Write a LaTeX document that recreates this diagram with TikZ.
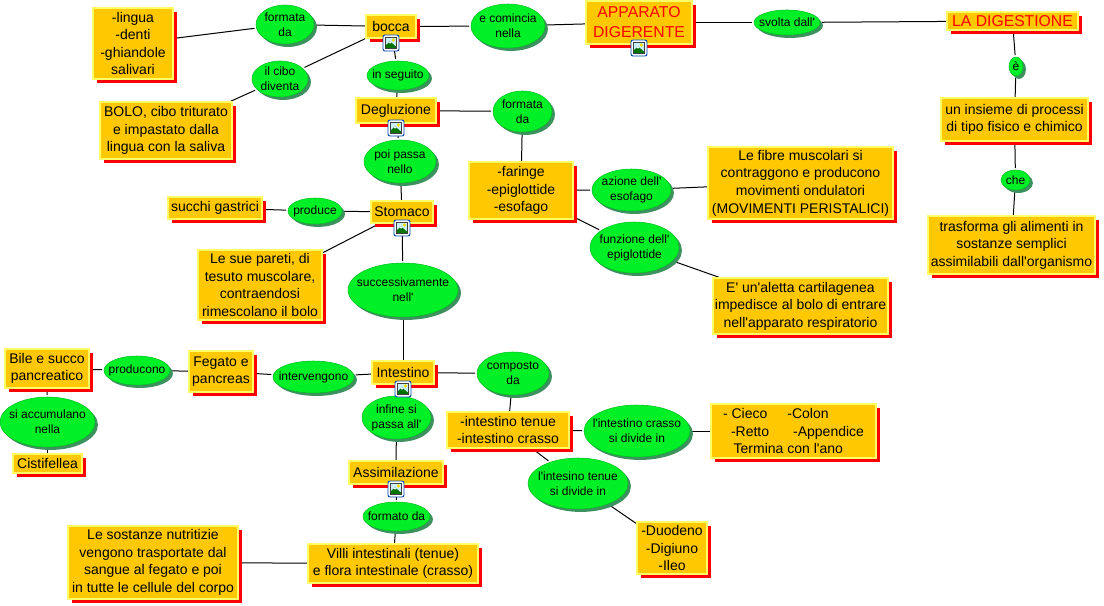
\documentclass[tikz,border=0pt]{standalone}
\usepackage{fontspec}
\setmainfont{Liberation Sans}[Ligatures=TeXOff]
\usetikzlibrary{shadows,shapes.geometric,backgrounds}
\definecolor{boxfill}{RGB}{255,200,0}
\definecolor{boxedge}{RGB}{255,255,102}
\definecolor{ellfill}{RGB}{0,240,40}
\definecolor{ellshadow}{RGB}{60,145,95}
\tikzset{
  x=0.75pt,y=-0.75pt,
  cbox/.style={rectangle,fill=boxfill,draw=boxedge,line width=1.1pt,inner sep=0pt,align=center,
    font=\fontsize{10.5}{13.2}\selectfont,
    general shadow={fill=red,shadow xshift=3pt,shadow yshift=-3pt}},
  cell/.style={ellipse,fill=ellfill,draw=ellfill!80!black,line width=0.4pt,inner sep=0pt,outer sep=1.5pt,
    general shadow={fill=ellshadow,shadow xshift=2.2pt,shadow yshift=-2.2pt}},
  celltext/.style={align=center,inner sep=0pt,font=\fontsize{9}{11.4}\selectfont},
  link/.style={draw=black,line width=0.75pt},
  titletext/.style={text=red,font=\fontsize{11.8}{15}\selectfont},
  pics/photoicon/.style={code={
    \draw[fill=white,draw=blue!60!cyan!70!black,line width=0.7pt,rounded corners=1.5pt] (-8,-8) rectangle (8,8);
    \fill[cyan!20] (-5.5,-5.5) rectangle (5.5,5.5);
    \fill[yellow!80!orange] (2.3,-3) circle (1.8);
    \fill[green!45!black] (-5.5,5.5) -- (-5.5,2.5) -- (-1,-1.5) -- (5.5,4) -- (5.5,5.5) -- cycle;
    \fill[white] (-2.2,-0.5) -- (-1,-1.5) -- (0.4,-0.3) -- (-1,0.6) -- cycle;
    \draw[black!75,line width=0.5pt] (-5.5,-5.5) rectangle (5.5,5.5);
  }}
}
\newcommand{\bx}[7][]{\node[cbox,#1,minimum width={(#4-#2)*0.75pt},minimum height={(#5-#3)*0.75pt}] (#6) at ({(#2+#4)/2},{(#3+#5)/2}) {#7};}
\newcommand{\el}[6]{\node[cell,minimum width={(#3-#1)*0.75pt},minimum height={(#4-#2)*0.75pt},label={[celltext]center:{#6}}] (#5) at ({(#1+#3)/2},{(#2+#4)/2}) {};}
\begin{document}
\begin{tikzpicture}
\useasboundingbox (0,0) rectangle (1104,606);
\bx{93}{8}{173}{79}{lingua}{-lingua\\-denti\\-ghiandole\\salivari}
\el{256}{5}{314}{44}{formata}{formata\\da}
\bx{366}{15}{416}{38}{bocca}{bocca}
\el{471}{4}{545}{48}{comincia}{e comincia\\nella}
\bx[titletext]{586}{1}{692}{44}{apparato}{APPARATO\\DIGERENTE}
\el{754}{10}{820}{35}{svolta}{svolta dall'}
\bx[titletext]{947}{12}{1078}{30}{digestione}{LA DIGESTIONE}
\el{1009}{57}{1023}{76}{ee}{è}
\bx{941}{98}{1088}{141}{insieme}{un insieme di processi\\di tipo fisico e chimico}
\el{1001}{170}{1030}{190}{che}{che}
\bx{928}{216}{1095}{274}{trasforma}{trasforma gli alimenti in\\sostanze semplici\\assimilabili dall'organismo}
\el{252}{61}{308}{97}{cibo}{il cibo\\diventa}
\bx{100}{102}{232}{159}{bolo}{BOLO, cibo triturato\\e impastato dalla\\lingua con la saliva}
\el{367}{61}{429}{90}{seguito}{in seguito}
\bx{356}{98}{436}{123}{degluzione}{Degluzione}
\el{493}{91}{552}{132}{formata2}{formata\\da}
\el{364}{140}{436}{183}{passa}{poi passa\\nello}
\bx{469}{162}{573}{219}{faringe}{-faringe\\-epiglottide\\-esofago}
\el{592}{169}{671}{211}{azione}{azione dell'\\esofago}
\bx{708}{147}{893}{219}{fibre}{Le fibre muscolari si\\contraggono e producono\\movimenti ondulatori\\(MOVIMENTI PERISTALICI)}
\el{590}{222}{679}{273}{funzione}{funzione dell'\\epiglottide}
\bx{713}{278}{888}{334}{aletta}{E' un'aletta cartilagenea\\impedisce al bolo di entrare\\nell'apparato respiratorio}
\bx{168}{197}{262}{219}{succhi}{succhi gastrici}
\el{288}{198}{342}{224}{produce}{produce}
\bx{371}{201}{433}{223}{stomaco}{Stomaco}
\bx{198}{250}{322}{320}{pareti}{Le sue pareti, di\\tesuto muscolare,\\contraendosi\\rimescolano il bolo}
\el{348}{263}{458}{317}{success}{successivamente\\nell'}
\bx{372}{361}{434}{384}{intestino}{Intestino}
\el{273}{361}{354}{393}{intervengono}{intervengono}
\bx{189}{351}{253}{392}{fegato}{Fegato e\\pancreas}
\el{104}{356}{170}{385}{producono}{producono}
\bx{5}{349}{89}{388}{bile}{Bile e succo\\pancreatico}
\el{0}{397}{95}{447}{accumulano}{si accumulano\\nella}
\bx{13}{454}{82}{473}{cistifellea}{Cistifellea}
\el{477}{352}{549}{395}{composto}{composto\\da}
\bx{447}{412}{569}{448}{tenue}{-intestino tenue\\-intestino crasso}
\el{584}{405}{690}{457}{crasso}{l'intestino crasso\\si divide in}
\bx[align=left]{711}{404}{876}{458}{cieco}{- Cieco\hspace{15pt}-Colon\\\hspace*{6pt}-Retto\hspace{18pt}-Appendice\hspace*{7.5pt}\\\hspace*{8pt}Termina con l'ano}
\el{528}{458}{628}{509}{intesino}{l'intesino tenue\\si divide in}
\bx{637}{522}{707}{574}{duodeno}{-Duodeno\\-Digiuno\\-Ileo}
\el{362}{396}{431}{439}{infine}{infine si\\passa all'}
\bx{349}{461}{443}{484}{assimilazione}{Assimilazione}
\el{363}{502}{430}{531}{formato}{formato da}
\bx{308}{544}{478}{583}{villi}{Villi intestinali (tenue)\\e flora intestinale (crasso)}
\bx{68}{526}{238}{599}{sostanze}{Le sostanze nutritizie\\vengono trasportate dal\\sangue al fegato e poi\\in tutte le cellule del corpo}
\pic at (391,43) {photoicon};
\pic at (639,48) {photoicon};
\pic at (396,128) {photoicon};
\pic at (402,228) {photoicon};
\pic at (403,389) {photoicon};
\pic at (396,489) {photoicon};
\begin{scope}[on background layer]
\foreach \a/\b in {lingua/formata,formata/bocca,bocca/comincia,comincia/apparato,apparato/svolta,svolta/digestione,digestione/ee,ee/insieme,insieme/che,che/trasforma,bocca/cibo,cibo/bolo,bocca/seguito,seguito/degluzione,degluzione/formata2,formata2/faringe,degluzione/passa,passa/stomaco,faringe/azione,azione/fibre,faringe/funzione,funzione/aletta,succhi/produce,produce/stomaco,stomaco/pareti,stomaco/success,success/intestino,intestino/intervengono,intervengono/fegato,fegato/producono,producono/bile,bile/accumulano,accumulano/cistifellea,intestino/composto,composto/tenue,tenue/crasso,crasso/cieco,tenue/intesino,intesino/duodeno,intestino/infine,infine/assimilazione,assimilazione/formato,formato/villi,villi/sostanze}
  \draw[link] (\a) -- (\b);
\end{scope}
\end{tikzpicture}
\end{document}
